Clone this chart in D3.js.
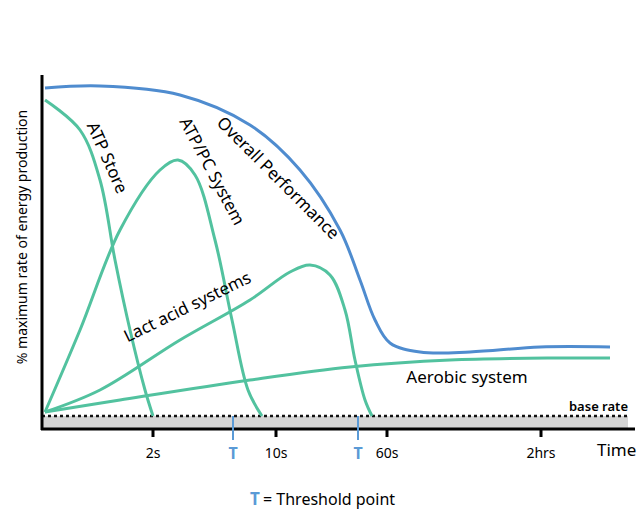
<!DOCTYPE html>
<html><head><meta charset="utf-8">
<script src="https://cdn.jsdelivr.net/npm/d3@7"></script>
<style>body{margin:0;background:#fff}text{font-family:"Noto Sans",sans-serif}</style>
</head><body>
<script>
// curve points: [time units, % above base rate units]
var overall = [[3,328],[58,330],[138,321],[208,291],[258,246],[298,186],[318,136],[333,96],[348,73],[378,64],[428,64],[498,69],[568,69]];
var atpStore = [[3,316],[38,286],[58,236],[73,156],[88,86],[103,26],[111,0]];
var atpPc = [[3,4],[38,86],[78,186],[118,246],[136,256],[153,241],[173,176],[190,96],[206,26],[220,0]];
var lactic = [[3,4],[58,26],[138,76],[208,116],[248,144],[268,151],[288,141],[303,106],[313,56],[323,16],[330,0]];
var aerobic = [[3,4],[78,16],[208,36],[308,49],[408,56],[518,58],[568,58]];
var ticks = [[111,"2s"],[234,"10s"],[345,"60s"],[499,"2hrs"]];
var thresholds = [191,316];

var svg = d3.select("body").append("svg").attr("width",643).attr("height",526);
var x = d3.scaleLinear().domain([0,600]).range([42,642]);
var y = d3.scaleLinear().domain([0,340]).range([416,76]);

// grey base band
svg.append("rect").attr("x",x(0)).attr("y",y(0)).attr("width",x(586)-x(0)).attr("height",13).attr("fill","#d4d4d4");
svg.append("line").attr("x1",x(0)).attr("x2",x(586)).attr("y1",y(0)).attr("y2",y(0))
  .attr("stroke","#111").attr("stroke-width",2.5).attr("stroke-dasharray","3,3");
svg.append("text").attr("x",x(586)).attr("y",y(0)-5).attr("text-anchor","end").attr("font-size",13).attr("font-weight","600").text("base rate");

var line = d3.line().x(d=>x(d[0])).y(d=>y(d[1])).curve(d3.curveCatmullRom);
[atpStore,atpPc,lactic,aerobic].forEach(function(c){
  svg.append("path").attr("d",line(c)).attr("fill","none").attr("stroke","#52c29f").attr("stroke-width",3);
});
svg.append("path").attr("d",line(overall)).attr("fill","none").attr("stroke","#4f8ccf").attr("stroke-width",3);

// axes
svg.append("line").attr("x1",42).attr("x2",42).attr("y1",75).attr("y2",430).attr("stroke","#000").attr("stroke-width",3);
svg.append("line").attr("x1",41).attr("x2",635).attr("y1",429).attr("y2",429).attr("stroke","#000").attr("stroke-width",3);
ticks.forEach(function(t){
  svg.append("line").attr("x1",x(t[0])).attr("x2",x(t[0])).attr("y1",429).attr("y2",437).attr("stroke","#000").attr("stroke-width",3);
  svg.append("text").attr("x",x(t[0])).attr("y",458).attr("text-anchor","middle").attr("font-size",14).text(t[1]);
});
thresholds.forEach(function(t){
  svg.append("line").attr("x1",x(t)).attr("x2",x(t)).attr("y1",416).attr("y2",440).attr("stroke","#5a9ad6").attr("stroke-width",2);
  svg.append("text").attr("x",x(t)).attr("y",459).attr("text-anchor","middle").attr("font-size",16).attr("font-weight","bold").attr("fill","#5a9ad6").text("T");
});
svg.append("text").attr("x",597).attr("y",456).attr("font-size",17).text("Time");
svg.append("text").attr("transform","translate(27,237) rotate(-90)").attr("text-anchor","middle").attr("font-size",14).text("% maximum rate of energy production");

// legend
svg.append("text").attr("x",250).attr("y",505).attr("font-size",17).attr("font-weight","bold").attr("fill","#5a9ad6").text("T");
svg.append("text").attr("x",263).attr("y",505).attr("font-size",16).text("= Threshold point");

// curve labels
function lab(t,cx,cy,a){
  svg.append("text").attr("transform","translate("+cx+","+cy+") rotate("+a+")").attr("text-anchor","middle").attr("font-size",17).text(t);
}
lab("Overall Performance",274,182,45);
lab("ATP Store",102,160,66);
lab("ATP/PC System",207,174,62);
lab("Lact acid systems",190,312,-26);
lab("Aerobic system",467,383,0);
</script>
</body></html>
